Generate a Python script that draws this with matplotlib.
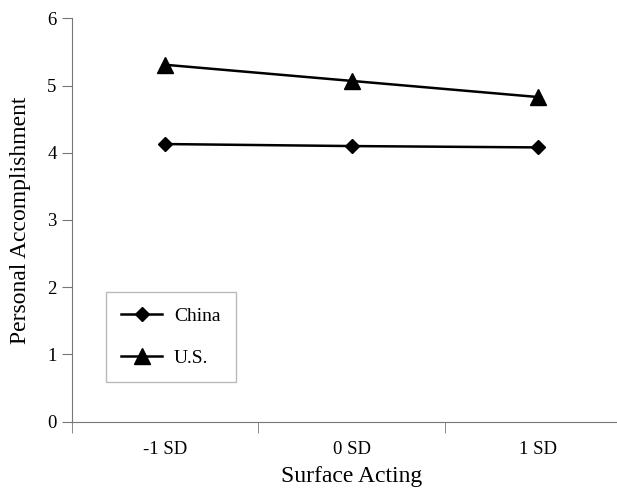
import numpy as np
import matplotlib.pyplot as plt

plt.rcParams['font.family'] = ['Liberation Serif', 'DejaVu Serif']

# data
levels = ['-1 SD', '0 SD', '1 SD']
china = [4.13, 4.10, 4.08]
us = [5.31, 5.07, 4.83]

fig = plt.figure(figsize=(6.17, 4.91), dpi=100)
ax = fig.add_axes([0.1167, 0.1415, 0.906, 0.821])

x = np.arange(len(levels))
ax.plot(x, china, color='black', marker='D', markersize=7, linewidth=1.8, label='China')
ax.plot(x, us, color='black', marker='^', markersize=11, linewidth=1.8, label='U.S.')

ax.set_xlim(-0.5, 2.5)
ax.set_ylim(0, 6)
ax.set_yticks(range(7))
ax.set_xticks(x)
ax.set_xticklabels(levels)
ax.set_xticks([-0.5, 0.5, 1.5], minor=True)
ax.tick_params(axis='x', which='major', length=0, pad=14, labelsize=13.5)
ax.tick_params(axis='x', which='minor', length=8, color='#777777')
ax.tick_params(axis='y', length=7, color='#777777', labelsize=13.5, pad=4)

for s in ['top', 'right']:
    ax.spines[s].set_visible(False)
for s in ['left', 'bottom']:
    ax.spines[s].set_color('#777777')

ax.set_xlabel('Surface Acting', fontsize=17, labelpad=6)
ax.set_ylabel('Personal Accomplishment', fontsize=17, labelpad=12)

leg = ax.legend(loc='lower left', bbox_to_anchor=(0.0605, 0.097), fontsize=14,
                fancybox=False, edgecolor='#aaaaaa', borderpad=0.8,
                labelspacing=1.25, handlelength=2.1, handletextpad=0.6,
                borderaxespad=0)
leg.get_frame().set_linewidth(1.0)

fig.savefig('out.png', dpi=100)
